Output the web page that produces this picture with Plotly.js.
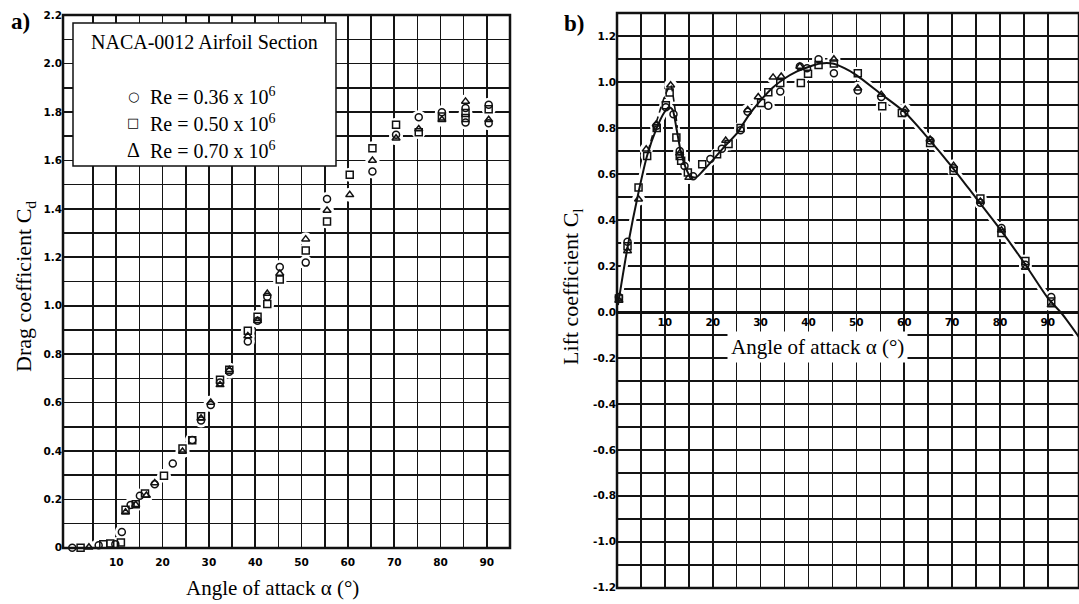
<!DOCTYPE html>
<html>
<head>
<meta charset="utf-8">
<script src="https://cdn.plot.ly/plotly-3.0.1.min.js"></script>
<style>
  html, body { margin: 0; padding: 0; background: #fff; }
  #chart { width: 1079px; height: 604px; }
</style>
</head>
<body>
<div id="chart"></div>
<script>
// ---------- NACA-0012 drag data (panel a) ----------
const cdAlpha036 = [0.5, 6.2, 9.8, 11.2, 13.1, 15.1, 18.3, 22.2, 26.4, 28.3, 30.4, 32.4, 34.4, 38.4, 40.5, 42.6, 45.3, 50.9, 55.5, 65.3, 70.4, 75.3, 80.3, 85.4, 85.4, 90.4, 90.4];
const cdValue036 = [0.0, 0.01, 0.015, 0.065, 0.177, 0.215, 0.262, 0.348, 0.445, 0.526, 0.59, 0.683, 0.727, 0.852, 0.938, 1.037, 1.16, 1.178, 1.441, 1.554, 1.706, 1.779, 1.799, 1.817, 1.757, 1.83, 1.754];

const cdAlpha050 = [2.3, 7.2, 8.7, 11.0, 12.0, 14.2, 16.2, 20.3, 24.3, 26.4, 28.3, 32.4, 34.4, 38.4, 40.5, 42.6, 45.3, 50.9, 55.5, 60.4, 65.3, 70.4, 75.3, 80.3, 85.4, 85.4, 90.4];
const cdValue050 = [0.0, 0.015, 0.018, 0.022, 0.157, 0.18, 0.224, 0.297, 0.41, 0.444, 0.543, 0.694, 0.735, 0.897, 0.954, 1.007, 1.108, 1.228, 1.348, 1.541, 1.651, 1.748, 1.717, 1.782, 1.796, 1.775, 1.812];

const cdAlpha070 = [4.1, 12.0, 14.2, 16.5, 18.3, 24.3, 28.3, 30.4, 32.4, 34.4, 38.4, 40.5, 42.6, 45.3, 50.9, 55.5, 60.4, 65.3, 70.4, 75.3, 80.3, 85.4, 90.4];
const cdValue070 = [0.002, 0.147, 0.178, 0.216, 0.268, 0.398, 0.535, 0.60, 0.673, 0.735, 0.875, 0.938, 1.05, 1.133, 1.275, 1.393, 1.458, 1.60, 1.692, 1.73, 1.768, 1.844, 1.768];

// ---------- NACA-0012 lift data (panel b) ----------
const clAlpha036 = [0.4, 2.2, 8.3, 10.2, 11.8, 13.1, 14.1, 15.9, 19.5, 21.9, 25.8, 27.3, 31.6, 34.1, 38.2, 39.7, 42.1, 45.3, 50.3, 55.2, 60.0, 65.4, 70.3, 75.9, 80.3, 85.3, 90.7];
const clValue036 = [0.065, 0.305, 0.81, 0.89, 0.86, 0.70, 0.635, 0.59, 0.665, 0.71, 0.79, 0.87, 0.897, 0.959, 1.067, 1.06, 1.099, 1.038, 0.963, 0.935, 0.865, 0.745, 0.625, 0.475, 0.365, 0.205, 0.065];

const clAlpha050 = [0.4, 2.2, 4.5, 6.3, 8.3, 10.2, 11.0, 12.4, 13.1, 13.4, 14.8, 17.8, 20.9, 23.3, 25.8, 30.1, 31.6, 34.1, 38.4, 39.9, 42.1, 45.3, 50.3, 55.4, 59.5, 65.4, 70.3, 75.9, 80.3, 85.3, 90.7];
const clValue050 = [0.058, 0.286, 0.541, 0.678, 0.80, 0.899, 0.954, 0.758, 0.678, 0.657, 0.606, 0.642, 0.686, 0.73, 0.80, 0.909, 0.955, 0.995, 0.995, 1.036, 1.074, 1.08, 1.038, 0.894, 0.865, 0.735, 0.614, 0.493, 0.343, 0.221, 0.045];

const clAlpha070 = [0.4, 2.2, 4.5, 6.1, 8.2, 11.2, 13.1, 15.0, 22.7, 27.3, 29.5, 32.6, 34.3, 38.2, 45.3, 50.3, 55.2, 60.2, 65.4, 70.3, 75.9, 80.3, 85.3, 90.7];
const clValue070 = [0.05, 0.265, 0.49, 0.707, 0.816, 0.986, 0.69, 0.584, 0.745, 0.878, 0.935, 1.02, 1.024, 1.067, 1.099, 0.973, 0.945, 0.88, 0.75, 0.636, 0.48, 0.355, 0.193, 0.03];

// Faired lift curve and the dashed branch over the first stall peak
const fitAlpha = [0.2, 2.2, 4.5, 6.3, 8.3, 9.8, 10.8, 11.6, 12.4, 13.3, 14.3, 15.3, 16.5, 18, 20, 22.5, 25, 27.5, 30, 32.5, 35, 37.5, 40, 42.5, 45, 47.5, 50, 55, 60, 65, 70, 75, 80, 85, 90, 93, 96.5];
const fitCl    = [0.03, 0.28, 0.52, 0.68, 0.80, 0.865, 0.89, 0.88, 0.80, 0.70, 0.63, 0.59, 0.585, 0.615, 0.66, 0.72, 0.775, 0.855, 0.92, 0.975, 1.015, 1.045, 1.065, 1.08, 1.08, 1.06, 1.03, 0.95, 0.87, 0.755, 0.63, 0.495, 0.36, 0.215, 0.06, -0.01, -0.11];
const dashAlpha = [6.5, 8.3, 10.0, 11.2, 12.0, 12.6];
const dashCl    = [0.70, 0.83, 0.94, 0.985, 0.90, 0.80];

// Legend entries and tick labels
const seriesNames   = ['Re = 0.36 x 10<sup>6</sup>', 'Re = 0.50 x 10<sup>6</sup>', 'Re = 0.70 x 10<sup>6</sup>'];
const seriesGlyphs  = ['\u25CB', '\u25A1', '\u0394'];
const alphaTicks    = [10, 20, 30, 40, 50, 60, 70, 80, 90];
const alphaLabels   = ['10', '20', '30', '40', '50', '60', '70', '80', '90'];
const cdTicks       = [0, 0.2, 0.4, 0.6, 0.8, 1.0, 1.2, 1.4, 1.6, 1.8, 2.0, 2.2];
const cdLabels      = ['0', '0.2', '0.4', '0.6', '0.8', '1.0', '1.2', '1.4', '1.6', '1.8', '2.0', '2.2'];
const clTicks       = [-1.2, -1.0, -0.8, -0.6, -0.4, -0.2, 0.0, 0.2, 0.4, 0.6, 0.8, 1.0, 1.2];
const clLabels      = ['-1.2', '-1.0', '-0.8', '-0.6', '-0.4', '-0.2', '0.0', '0.2', '0.4', '0.6', '0.8', '1.0', '1.2'];

// ---------- geometry ----------
const W = 1079, H = 604;
const px = v => v / W;
const py = v => 1 - v / H;
const rangeA_x = [-1.5, 95], rangeA_y = [0, 2.2];
const rangeB_x = [0, 96.5],  rangeB_y = [-1.2, 1.3];
const domA_x = [px(63), px(510)], domA_y = [py(548), py(15)];
const domB_x = [px(617), 1],     domB_y = [py(588), py(13)];

// in-between grid lines: halfway between each pair of labelled ticks
function midlines(ticks) {
  const out = [];
  for (let i = 0; i < ticks.length - 1; i++) out.push(Math.round((ticks[i] + ticks[i + 1]) * 50) / 100);
  return out;
}
const minorAlpha = [5].concat(midlines(alphaTicks));
const minorCd = midlines(cdTicks);
const minorCl = midlines(clTicks);

const gridColor = '#141414', gridW = 1.6;
function axisStyle(ticks, labels, minor) {
  return {
    showgrid: true, gridcolor: gridColor, gridwidth: gridW, zeroline: false, showline: false, ticks: '',
    tickmode: 'array', tickvals: ticks, ticktext: labels,
    tickfont: { family: 'DejaVu Sans, Liberation Sans, sans-serif', size: 10.5, color: '#000', weight: 'bold' },
    minor: { tickmode: 'array', tickvals: minor, showgrid: true, gridcolor: gridColor, gridwidth: gridW, ticks: '' }
  };
}
const serif = 'Liberation Serif, DejaVu Serif, serif';

// ---------- traces ----------
const symbols = ['circle-open', 'square-open', 'triangle-up-open'];
const dragSets = [[cdAlpha036, cdValue036], [cdAlpha050, cdValue050], [cdAlpha070, cdValue070]];
const liftSets = [[clAlpha036, clValue036], [clAlpha050, clValue050], [clAlpha070, clValue070]];

const traces = [];
// white clearing under the symbols and the curve, so grid lines break around them
dragSets.forEach(([x, y]) => traces.push({
  x, y, xaxis: 'x', yaxis: 'y', type: 'scatter', mode: 'markers', cliponaxis: false,
  marker: { symbol: 'circle', size: 14, color: '#fff' }, hoverinfo: 'skip', showlegend: false
}));
liftSets.forEach(([x, y]) => traces.push({
  x, y, xaxis: 'x2', yaxis: 'y2', type: 'scatter', mode: 'markers', cliponaxis: false,
  marker: { symbol: 'circle', size: 13, color: '#fff' }, hoverinfo: 'skip', showlegend: false
}));
traces.push({
  x: fitAlpha, y: fitCl, xaxis: 'x2', yaxis: 'y2', type: 'scatter', mode: 'lines',
  line: { color: '#fff', width: 7, shape: 'spline', smoothing: 0.7 }, hoverinfo: 'skip', showlegend: false
});
// faired curve and dashed branch
traces.push({
  x: fitAlpha, y: fitCl, xaxis: 'x2', yaxis: 'y2', type: 'scatter', mode: 'lines', name: 'fit',
  line: { color: '#111', width: 2, shape: 'spline', smoothing: 0.7 }, showlegend: false
});
traces.push({
  x: dashAlpha, y: dashCl, xaxis: 'x2', yaxis: 'y2', type: 'scatter', mode: 'lines', name: 'fit (dashed)',
  line: { color: '#111', width: 1.6, shape: 'spline', smoothing: 0.7, dash: '6px,4px' }, showlegend: false
});
// measured points
dragSets.forEach(([x, y], i) => traces.push({
  x, y, xaxis: 'x', yaxis: 'y', type: 'scatter', mode: 'markers', cliponaxis: false, name: seriesNames[i],
  marker: { symbol: symbols[i], size: 7, color: '#111', line: { width: 1.5, color: '#111' } }, showlegend: false
}));
liftSets.forEach(([x, y], i) => traces.push({
  x, y, xaxis: 'x2', yaxis: 'y2', type: 'scatter', mode: 'markers', cliponaxis: false, name: seriesNames[i],
  marker: { symbol: symbols[i], size: 7, color: '#111', line: { width: 1.5, color: '#111' } }, showlegend: false
}));

// x axis of panel b sits on Cl = 0
const zeroFrac = (0 - rangeB_y[0]) / (rangeB_y[1] - rangeB_y[0]);
const zeroPos = domB_y[0] + zeroFrac * (domB_y[1] - domB_y[0]);

// ---------- annotations ----------
function label(x, y, text, font, extra) {
  return Object.assign({ xref: 'paper', yref: 'paper', x: px(x), y: py(y), text: text, showarrow: false,
    xanchor: 'center', yanchor: 'middle', font: font }, extra || {});
}
const ann = [];
ann.push(label(20, 22, '<b>a)</b>', { family: serif, size: 23, color: '#000' }));
ann.push(label(574, 24, '<b>b)</b>', { family: serif, size: 23, color: '#000' }));
ann.push(label(25, 287, 'Drag coefficient C<sub>d</sub>', { family: serif, size: 22, color: '#000' }, { textangle: -90 }));
ann.push(label(272, 588, 'Angle of attack \u03B1 (\u00B0)', { family: serif, size: 21, color: '#000' }));
ann.push(label(572, 287, 'Lift coefficient C<sub>l</sub>', { family: serif, size: 22, color: '#000' }, { textangle: -90 }));
ann.push(label(818, 347, 'Angle of attack \u03B1 (\u00B0)', { family: serif, size: 21, color: '#000' },
  { bgcolor: '#fff', borderpad: 3 }));
// key box contents
ann.push(label(205, 42, 'NACA-0012 Airfoil Section', { family: serif, size: 20, color: '#000' }));
const keyRows = [96, 123, 150];
seriesNames.forEach((name, i) => {
  ann.push(label(133, keyRows[i], seriesGlyphs[i],
    { family: i === 2 ? serif : 'DejaVu Sans, sans-serif', size: i === 2 ? 20 : 13, color: '#000' }));
  ann.push(label(148, keyRows[i], name, { family: serif, size: 20, color: '#000' }, { xanchor: 'left' }));
});

// ---------- frames ----------
const shapes = [
  { type: 'rect', xref: 'x domain', yref: 'y domain', x0: 0, x1: 1, y0: 0, y1: 1,
    line: { color: '#111', width: 2.5 }, layer: 'above' },
  { type: 'rect', xref: 'x2 domain', yref: 'y2 domain', x0: 0, x1: 1, y0: 0, y1: 1,
    line: { color: '#111', width: 2.5 }, layer: 'above' },
  { type: 'rect', xref: 'paper', yref: 'paper', x0: px(73), x1: px(336), y0: py(166), y1: py(23),
    fillcolor: '#fff', line: { color: '#111', width: 1.5 }, layer: 'above' }
];

const layout = {
  width: W, height: H,
  margin: { l: 0, r: 0, t: 0, b: 0 },
  paper_bgcolor: '#fff', plot_bgcolor: '#fff',
  showlegend: false,
  xaxis: Object.assign(axisStyle(alphaTicks, alphaLabels, minorAlpha), {
    domain: domA_x, range: rangeA_x, anchor: 'y', ticklabelstandoff: 6
  }),
  yaxis: Object.assign(axisStyle(cdTicks, cdLabels, minorCd), {
    domain: domA_y, range: [rangeA_y[0] - 0.001, rangeA_y[1] + 0.001], anchor: 'x'
  }),
  xaxis2: Object.assign(axisStyle(alphaTicks, alphaLabels, minorAlpha), {
    domain: domB_x, range: rangeB_x, anchor: 'free', position: zeroPos,
    showline: true, linecolor: '#111', linewidth: 2.5
  }),
  yaxis2: Object.assign(axisStyle(clTicks, clLabels, minorCl), {
    domain: domB_y, range: [rangeB_y[0] - 0.001, rangeB_y[1]], anchor: 'x2'
  }),
  annotations: ann,
  shapes: shapes
};

Plotly.newPlot('chart', traces, layout, { displayModeBar: false, staticPlot: true });
</script>
</body>
</html>
